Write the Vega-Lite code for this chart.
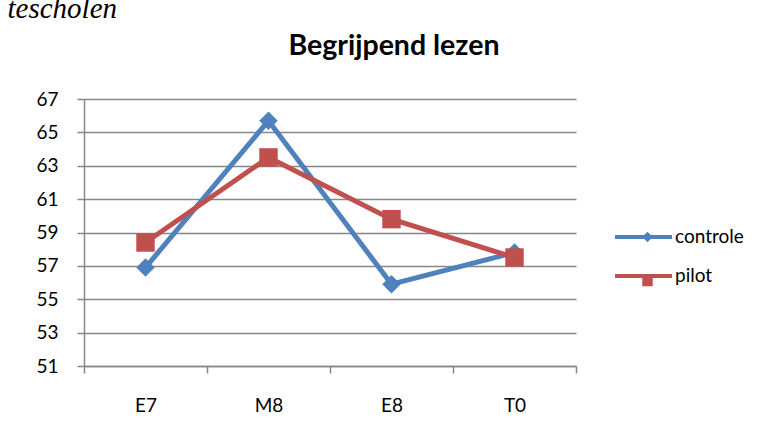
{
  "$schema": "https://vega.github.io/schema/vega-lite/v6.json",
  "autosize": {"type": "none"},
  "width": 492,
  "height": 267,
  "padding": {"left": 84, "top": 99, "right": 188, "bottom": 77},
  "background": "white",
  "config": {"view": {"stroke": null}, "font": "Lato"},
  "data": {
    "values": [
      {"meting": "E7", "groep": "controle", "score": 56.9},
      {"meting": "M8", "groep": "controle", "score": 65.7},
      {"meting": "E8", "groep": "controle", "score": 55.9},
      {"meting": "T0", "groep": "controle", "score": 57.8},
      {"meting": "E7", "groep": "pilot", "score": 58.4},
      {"meting": "M8", "groep": "pilot", "score": 63.5},
      {"meting": "E8", "groep": "pilot", "score": 59.8},
      {"meting": "T0", "groep": "pilot", "score": 57.5}
    ]
  },
  "encoding": {
    "x": {
      "field": "meting",
      "type": "nominal",
      "sort": ["E7", "M8", "E8", "T0"],
      "scale": {"type": "band", "paddingInner": 0, "paddingOuter": 0},
      "axis": {
        "title": "Begrijpend lezen",
        "titleX": 309.5,
        "titleY": -312,
        "titleAlign": "center",
        "titleBaseline": "alphabetic",
        "titleFont": "Lato",
        "titleFontSize": 28.5,
        "titleFontWeight": "bold",
        "titleColor": "black",
        "labelAngle": 0,
        "labelFont": "Lato",
        "labelFontSize": 19,
        "labelColor": "black",
        "labelPadding": 23,
        "tickBand": "extent",
        "tickSize": 7,
        "tickColor": "#868686",
        "tickWidth": 1.5,
        "domainColor": "#868686",
        "domainWidth": 1.5,
        "grid": false
      }
    },
    "y": {
      "field": "score",
      "type": "quantitative",
      "scale": {"domain": [51, 67], "nice": false, "zero": false},
      "axis": {
        "title": "tescholen",
        "titleAngle": 0,
        "titleX": -77,
        "titleY": -81.5,
        "titleAlign": "left",
        "titleBaseline": "alphabetic",
        "titleFont": "Liberation Serif",
        "titleFontStyle": "italic",
        "titleFontWeight": "normal",
        "titleFontSize": 29,
        "titleColor": "black",
        "values": [51, 53, 55, 57, 59, 61, 63, 65, 67],
        "labelFont": "Lato",
        "labelFontSize": 19,
        "labelColor": "black",
        "labelPadding": 19,
        "tickSize": 7,
        "tickColor": "#868686",
        "tickWidth": 1.5,
        "domainColor": "#868686",
        "domainWidth": 1.5,
        "gridColor": "#868686",
        "gridWidth": 1.5
      }
    }
  },
  "layer": [
    {
      "mark": {"type": "point", "opacity": 0, "filled": true},
      "encoding": {
        "fill": {
          "field": "groep",
          "type": "nominal",
          "scale": {"domain": ["pilot", "controle"], "range": ["#C0504D", "#4F81BD"]},
          "legend": {
            "title": null,
            "values": ["controle", "pilot"],
            "orient": "none",
            "legendX": 531,
            "legendY": 109.5,
            "labelFont": "Lato",
            "labelFontSize": 19,
            "labelColor": "black",
            "labelOffset": 3,
            "symbolSize": 3249,
            "symbolType": "M-1,-0.07L1,-0.07L1,0.07L-1,0.07Z",
            "symbolStrokeWidth": 0,
            "symbolOpacity": 1,
            "rowPadding": -10
          }
        }
      }
    },
    {
      "mark": {"type": "line", "strokeWidth": 5},
      "encoding": {
        "color": {
          "field": "groep",
          "type": "nominal",
          "scale": {"domain": ["controle", "pilot"], "range": ["#4F81BD", "#C0504D"]},
          "legend": {
            "title": null,
            "orient": "none",
            "legendX": 554,
            "legendY": 128.5,
            "labelFont": "Lato",
            "labelFontSize": 19,
            "labelExpr": "''",
            "symbolSize": 110,
            "symbolStrokeWidth": 0,
            "symbolOpacity": 1,
            "rowPadding": 24
          }
        }
      }
    },
    {
      "mark": {"type": "point", "filled": true, "opacity": 1, "size": 340, "strokeWidth": 0},
      "encoding": {
        "color": {"field": "groep", "type": "nominal"},
        "shape": {
          "field": "groep",
          "type": "nominal",
          "scale": {"domain": ["controle", "pilot"], "range": ["diamond", "square"]},
          "legend": null
        }
      }
    }
  ]
}
